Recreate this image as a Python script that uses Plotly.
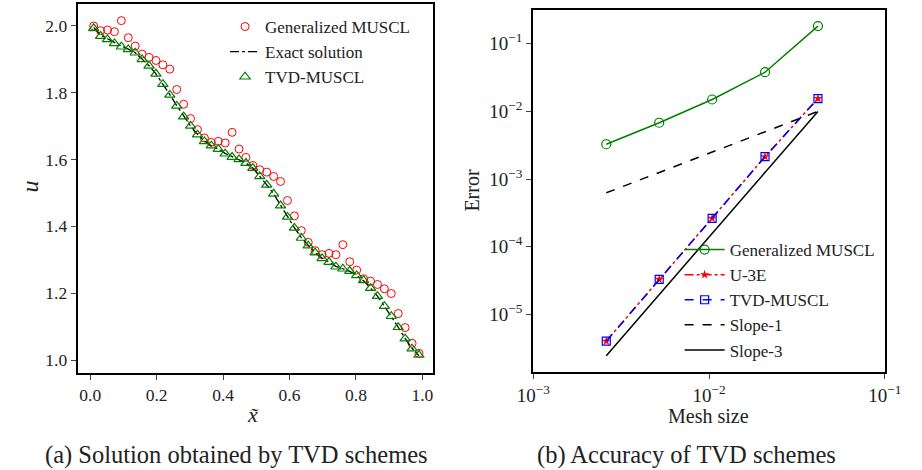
import plotly.graph_objects as go

W, H = 922, 470

# ---------- Panel (a) data ----------
x_cells = [(i + 0.5) / 48 for i in range(48)]
u_gmuscl = [1.999, 1.985, 1.987, 1.982, 2.015, 1.964, 1.939, 1.915, 1.905, 1.896,
            1.883, 1.870, 1.809, 1.765, 1.722, 1.689, 1.664, 1.651, 1.654, 1.649,
            1.681, 1.631, 1.606, 1.582, 1.569, 1.562, 1.549, 1.534, 1.477, 1.431,
            1.387, 1.352, 1.327, 1.315, 1.319, 1.315, 1.345, 1.294, 1.269, 1.243,
            1.236, 1.226, 1.213, 1.199, 1.139, 1.097, 1.050, 1.020]
u_tvd = [1.992, 1.969, 1.959, 1.947, 1.937, 1.929, 1.919, 1.899, 1.880, 1.856,
         1.825, 1.793, 1.760, 1.728, 1.700, 1.674, 1.654, 1.641, 1.631, 1.617,
         1.607, 1.600, 1.589, 1.574, 1.549, 1.524, 1.497, 1.462, 1.428, 1.395,
         1.365, 1.342, 1.321, 1.304, 1.293, 1.279, 1.273, 1.266, 1.253, 1.238,
         1.215, 1.191, 1.161, 1.131, 1.098, 1.064, 1.034, 1.015]
u_exact = [1.995, 1.972, 1.961, 1.949, 1.939, 1.930, 1.919, 1.900, 1.880, 1.856,
           1.826, 1.794, 1.761, 1.729, 1.700, 1.675, 1.655, 1.641, 1.631, 1.618,
           1.608, 1.600, 1.589, 1.574, 1.550, 1.524, 1.497, 1.463, 1.429, 1.396,
           1.366, 1.342, 1.321, 1.305, 1.293, 1.280, 1.273, 1.265, 1.253, 1.237,
           1.215, 1.191, 1.161, 1.131, 1.098, 1.065, 1.035, 1.013]

# ---------- Panel (b) data ----------
mesh = [1/384, 1/192, 1/96, 1/48, 1/24]
err_gmuscl = [3.27e-3, 6.8e-3, 1.5e-2, 3.8e-2, 1.83e-1]
err_u3e = [4.0e-6, 3.28e-5, 2.62e-4, 2.14e-3, 1.55e-2]
err_tvd = [4.0e-6, 3.28e-5, 2.62e-4, 2.14e-3, 1.55e-2]
slope_x = [1/384, 1/24]
slope1_y = [6.25e-4, 1.0e-2]
slope3_y = [2.44e-6, 1.0e-2]

FONT = "Liberation Serif, DejaVu Serif, serif"
TXT = "#222"

fig = go.Figure()

# Panel (a)
fig.add_trace(go.Scatter(x=x_cells, y=u_gmuscl, mode="markers", name="Generalized MUSCL",
                         marker=dict(symbol="circle-open", size=8, color="red", line=dict(width=1)),
                         xaxis="x", yaxis="y", legend="legend"))
fig.add_trace(go.Scatter(x=x_cells, y=u_exact, mode="lines", name="Exact solution",
                         line=dict(color="black", width=1.3, dash="dashdot"),
                         xaxis="x", yaxis="y", legend="legend"))
fig.add_trace(go.Scatter(x=x_cells, y=u_tvd, mode="markers", name="TVD-MUSCL",
                         marker=dict(symbol="triangle-up-open", size=9, color="green", line=dict(width=1.2)),
                         xaxis="x", yaxis="y", legend="legend"))

# Panel (b)
fig.add_trace(go.Scatter(x=mesh, y=err_gmuscl, mode="lines+markers", name="Generalized MUSCL",
                         line=dict(color="green", width=1.5),
                         marker=dict(symbol="circle-open", size=9, color="green", line=dict(width=1.2)),
                         xaxis="x2", yaxis="y2", legend="legend2"))
fig.add_trace(go.Scatter(x=mesh, y=err_u3e, mode="lines+markers", name="U-3E",
                         line=dict(color="red", width=1.5, dash="dashdot"),
                         marker=dict(symbol="star", size=7, color="red"),
                         xaxis="x2", yaxis="y2", legend="legend2"))
fig.add_trace(go.Scatter(x=mesh, y=err_tvd, mode="lines+markers", name="TVD-MUSCL",
                         line=dict(color="blue", width=1.5, dash="dash"),
                         marker=dict(symbol="square-open", size=8, color="blue", line=dict(width=1.2)),
                         xaxis="x2", yaxis="y2", legend="legend2"))
fig.add_trace(go.Scatter(x=slope_x, y=slope1_y, mode="lines", name="Slope-1",
                         line=dict(color="black", width=1.5, dash="dash"),
                         xaxis="x2", yaxis="y2", legend="legend2"))
fig.add_trace(go.Scatter(x=slope_x, y=slope3_y, mode="lines", name="Slope-3",
                         line=dict(color="black", width=1.5),
                         xaxis="x2", yaxis="y2", legend="legend2"))

def axis_common(fs):
    return dict(showline=True, linecolor="black", linewidth=2, mirror=True,
                ticks="outside", ticklen=5, tickwidth=1, tickcolor="#444",
                showgrid=False, zeroline=False,
                tickfont=dict(family=FONT, size=fs, color=TXT))

def py(px):
    return 1 - px / H

fig.update_layout(
    width=W, height=H, margin=dict(l=0, r=0, t=0, b=0),
    paper_bgcolor="white", plot_bgcolor="white",
    font=dict(family=FONT, size=17, color=TXT),
    xaxis=dict(domain=[63 / W, 432 / W], range=[-0.0377, 1.032],
               tickvals=[0, 0.2, 0.4, 0.6, 0.8, 1.0],
               ticktext=["0.0", "0.2", "0.4", "0.6", "0.8", "1.0"], anchor="y", **axis_common(17.5)),
    yaxis=dict(domain=[py(373), py(4)], range=[0.9612, 2.0648],
               tickvals=[1.0, 1.2, 1.4, 1.6, 1.8, 2.0],
               ticktext=["1.0", "1.2", "1.4", "1.6", "1.8", "2.0"], anchor="x", **axis_common(17.5)),
    xaxis2=dict(domain=[536 / W, 901 / W], type="log", range=[-3, -1],
                tickvals=[1e-3, 1e-2, 1e-1],
                ticktext=["10<sup>−3</sup>", "10<sup>−2</sup>", "10<sup>−1</sup>"], anchor="y2", **axis_common(19)),
    yaxis2=dict(domain=[py(371.7), py(10)], type="log", range=[-5.85, -0.5],
                tickvals=[1e-5, 1e-4, 1e-3, 1e-2, 1e-1],
                ticktext=["10<sup>−5</sup>", "10<sup>−4</sup>", "10<sup>−3</sup>", "10<sup>−2</sup>", "10<sup>−1</sup>"],
                anchor="x2", **axis_common(19)),
    legend=dict(x=216 / W, y=py(9), xanchor="left", yanchor="top", bgcolor="rgba(0,0,0,0)",
                font=dict(family=FONT, size=17, color=TXT), tracegroupgap=0, itemwidth=30),
    legend2=dict(x=688 / W, y=py(232), xanchor="left", yanchor="top", bgcolor="rgba(0,0,0,0)",
                 font=dict(family=FONT, size=17, color=TXT), tracegroupgap=0, itemwidth=40),
    showlegend=True,
)

ann = [
    dict(text="<i>u</i>", x=14 / W, y=py(186), textangle=-90, font=dict(size=24)),
    dict(text="<i>x̃</i>", x=245 / W, y=py(414), font=dict(size=22)),
    dict(text="Error", x=472 / W, y=py(190), textangle=-90, font=dict(size=20)),
    dict(text="Mesh size", x=718 / W, y=py(416), font=dict(size=20)),
    dict(text="(a) Solution obtained by TVD schemes", x=228 / W, y=py(455), font=dict(size=24.5)),
    dict(text="(b) Accuracy of TVD schemes", x=695 / W, y=py(455), font=dict(size=24.5)),
]
for a in ann:
    a.update(xref="paper", yref="paper", showarrow=False, xanchor="center", yanchor="middle")
    a["font"] = dict(family=FONT, color=TXT, **a["font"])
fig.update_layout(annotations=ann)

fig.write_html("out.html")
